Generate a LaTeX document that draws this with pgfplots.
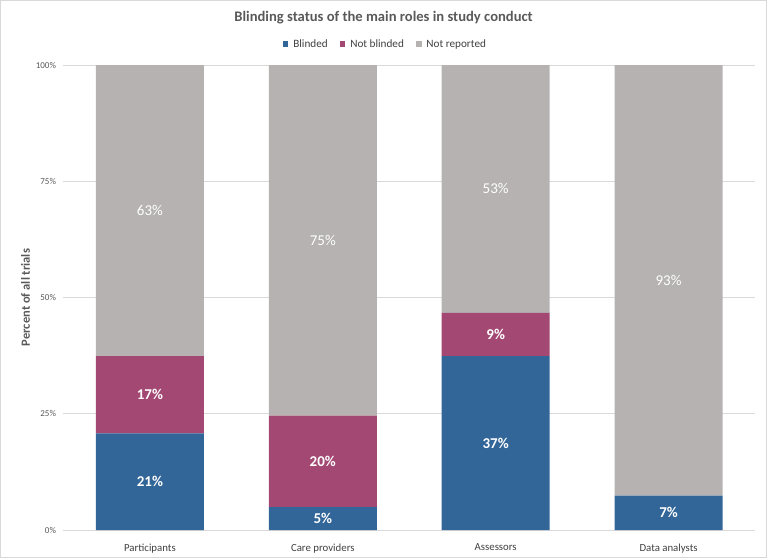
\documentclass[border=0pt]{standalone}
\usepackage{fontspec}
\setmainfont{Carlito}
\usepackage{pgfplots}
\pgfplotsset{compat=1.18}
\usetikzlibrary{calc}
\definecolor{cblue}{RGB}{50,101,152}
\definecolor{cmag}{RGB}{163,72,114}
\definecolor{cgray}{RGB}{182,178,178}
\definecolor{gridc}{RGB}{217,217,217}
\definecolor{txt}{RGB}{89,89,89}
\definecolor{txtd}{RGB}{64,64,64}
\begin{document}
\begin{tikzpicture}
\begin{axis}[
  name=ax,
  scale only axis,
  width=691.5pt, height=465pt,
  ybar stacked, bar width=108pt,
  xmin=-0.5, xmax=3.5, ymin=0, ymax=100,
  xtick={0,1,2,3},
  xticklabels={Participants,Care providers,Assessors,Data analysts},
  ytick={0,25,50,75,100},
  yticklabel={\pgfmathprintnumber{\tick}\%},
  /pgf/number format/assume math mode=true,
  major tick length=0pt,
  ymajorgrids, grid style={gridc, line width=0.75pt},
  axis lines*=left,
  x axis line style={gridc, line width=0.75pt},
  y axis line style={draw=none},
  yticklabel style={font=\fontsize{9}{10}\selectfont, text=txt, xshift=-4pt},
  xticklabel style={font=\fontsize{10.8}{12}\selectfont, text=txtd, yshift=-10pt},
  ylabel={Percent of all trials},
  ylabel style={at={(axis description cs:-0.0434,0.5)}, anchor=south, font=\bfseries\fontsize{12.5}{14}\selectfont, text=txt},
  title={Blinding status of the main roles in study conduct},
  title style={at={(axis description cs:0.4628,1.088)}, anchor=center, font=\bfseries\fontsize{14.6}{16}\selectfont, text=txt},
  legend style={at={(axis description cs:0.4655,1.045)}, anchor=center, draw=none, fill=none,
    legend columns=-1, font=\fontsize{11.2}{13}\selectfont, text=txtd,
    /tikz/every even column/.append style={column sep=10pt}},
  legend image code/.code={\fill[#1] (0pt,-2.8pt) rectangle (5.6pt,2.8pt); \path (8.5pt,0pt);},
]
\addplot[fill=cblue, draw=none] coordinates {(0,20.8) (1,4.9) (2,37.4) (3,7.4)};
\addlegendentry{Blinded}
\addplot[fill=cmag, draw=none] coordinates {(0,16.6) (1,19.7) (2,9.3) (3,0)};
\addlegendentry{Not blinded}
\addplot[fill=cgray, draw=none] coordinates {(0,62.6) (1,75.4) (2,53.3) (3,92.6)};
\addlegendentry{Not reported}
\end{axis}
\begin{axis}[
  at={(ax.south west)}, anchor=south west,
  scale only axis, hide axis,
  width=691.5pt, height=465pt,
  xmin=-0.5, xmax=3.5, ymin=0, ymax=100,
  nodes near coords,
  point meta=explicit symbolic,
]
\addplot[draw=none, mark=none, every node near coord/.style={anchor=center, text=white,
    font=\bfseries\fontsize{15}{17}\selectfont}] coordinates {
  (0,10.4)[21\%] (0,29.1)[17\%]
  (1,2.45)[5\%] (1,14.75)[20\%]
  (2,18.7)[37\%] (2,42.05)[9\%]
  (3,3.7)[7\%]};
\addplot[draw=none, mark=none, every node near coord/.style={anchor=center, text=white,
    font=\fontsize{15}{17}\selectfont}] coordinates {
  (0,68.7)[63\%] (1,62.3)[75\%] (2,73.35)[53\%] (3,53.7)[93\%]};
\end{axis}
\draw[gridc, line width=0.75pt] ($(ax.south west)+(-63.5pt+0.375pt,-28pt+0.375pt)$) rectangle ($(ax.south west)+(767pt-63.5pt-0.375pt,558pt-28pt-0.375pt)$);
\end{tikzpicture}
\end{document}
